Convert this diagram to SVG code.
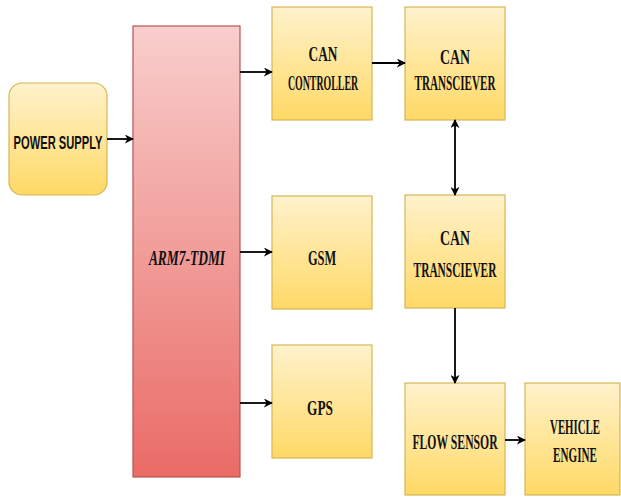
<svg xmlns="http://www.w3.org/2000/svg" width="621" height="497" viewBox="0 0 621 497">
<defs>
<linearGradient id="yg" x1="0" y1="0" x2="0" y2="1"><stop offset="0" stop-color="#fff2cc"/><stop offset="1" stop-color="#ffd966"/></linearGradient>
<linearGradient id="rg" x1="0" y1="0" x2="0" y2="1"><stop offset="0" stop-color="#f8cecc"/><stop offset="1" stop-color="#ea6b66"/></linearGradient>
<marker id="ah" viewBox="0 0 10 10" refX="9" refY="5" markerWidth="9" markerHeight="9" orient="auto-start-reverse" markerUnits="userSpaceOnUse"><path d="M0,0 L10,5 L0,10 L3,5 Z" fill="#000"/></marker>
<style>
.y{fill:url(#yg);stroke:#d6b656;stroke-width:1.2}
.r{fill:url(#rg);stroke:#b85450;stroke-width:1.2}
.t{font-family:"Liberation Serif",serif;font-size:20px;font-weight:bold;fill:#111;text-anchor:middle;dominant-baseline:central}
.s{font-family:"Liberation Sans",sans-serif;font-size:19px;font-weight:bold;fill:#111;text-anchor:middle;dominant-baseline:central}
.c line{stroke:#000;stroke-width:1.8;marker-end:url(#ah)}
</style>
</defs>
<g id="power"><rect class="y" x="9" y="83" width="98" height="112" rx="13"/><text class="s" transform="translate(58,142) scale(0.63,1)" textLength="141" lengthAdjust="spacingAndGlyphs">POWER SUPPLY</text></g>
<g id="arm"><rect class="r" x="133" y="26" width="107" height="451"/><text class="t" transform="translate(187,258) scale(0.6,1)" font-style="italic" textLength="127" lengthAdjust="spacingAndGlyphs">ARM7-TDMI</text></g>
<g id="canctrl"><rect class="y" x="272" y="7" width="100" height="113"/><text class="t" transform="translate(323,54) scale(0.6,1)" textLength="48" lengthAdjust="spacingAndGlyphs">CAN</text><text class="t" transform="translate(323,83) scale(0.6,1)" textLength="117" lengthAdjust="spacingAndGlyphs">CONTROLLER</text></g>
<g id="cantr1"><rect class="y" x="405" y="7" width="100" height="113"/><text class="t" transform="translate(455,57) scale(0.6,1)" textLength="50" lengthAdjust="spacingAndGlyphs">CAN</text><text class="t" transform="translate(455,83) scale(0.6,1)" textLength="135" lengthAdjust="spacingAndGlyphs">TRANSCIEVER</text></g>
<g id="gsm"><rect class="y" x="272" y="196" width="100" height="113"/><text class="t" transform="translate(322,258) scale(0.6,1)" textLength="47" lengthAdjust="spacingAndGlyphs">GSM</text></g>
<g id="cantr2"><rect class="y" x="405" y="195" width="100" height="113"/><text class="t" transform="translate(455,238) scale(0.6,1)" textLength="50" lengthAdjust="spacingAndGlyphs">CAN</text><text class="t" transform="translate(455,270) scale(0.6,1)" textLength="138" lengthAdjust="spacingAndGlyphs">TRANSCIEVER</text></g>
<g id="gps"><rect class="y" x="272" y="345" width="100" height="113"/><text class="t" transform="translate(320,408) scale(0.6,1)" textLength="43" lengthAdjust="spacingAndGlyphs">GPS</text></g>
<g id="flow"><rect class="y" x="405" y="383" width="100" height="112"/><text class="t" transform="translate(455,442) scale(0.6,1)" textLength="142" lengthAdjust="spacingAndGlyphs">FLOW SENSOR</text></g>
<g id="engine"><rect class="y" x="525" y="383" width="95" height="112"/><text class="t" transform="translate(575,427) scale(0.6,1)" textLength="83" lengthAdjust="spacingAndGlyphs">VEHICLE</text><text class="t" transform="translate(575,455) scale(0.6,1)" textLength="73" lengthAdjust="spacingAndGlyphs">ENGINE</text></g>
<g id="connectors" class="c">
<line x1="107" y1="139" x2="133" y2="139"/>
<line x1="240" y1="72" x2="272" y2="72"/>
<line x1="240" y1="252" x2="272" y2="252"/>
<line x1="240" y1="403" x2="272" y2="403"/>
<line x1="372" y1="63" x2="405" y2="63"/>
<line x1="455" y1="120" x2="455" y2="195" marker-start="url(#ah)"/>
<line x1="455" y1="308" x2="455" y2="383"/>
<line x1="505" y1="440" x2="525" y2="440"/>
</g>
</svg>
